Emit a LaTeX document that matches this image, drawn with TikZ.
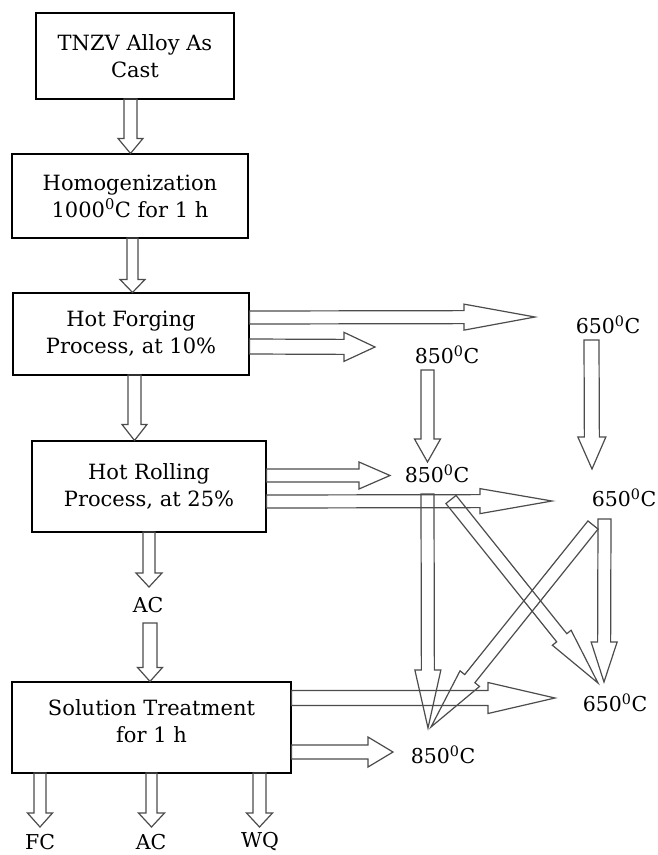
\documentclass[tikz,border=0pt]{standalone}
\usepackage{fontspec}
\setmainfont{DejaVu Serif}
\usetikzlibrary{calc}
\tikzset{
  box/.style={draw=black, line width=1.1pt, align=center, font=\fontsize{21}{27}\selectfont, inner sep=0pt},
  lbl/.style={font=\fontsize{20.5}{24}\selectfont, inner sep=0pt},
  harr/.style={draw=black!70, line width=1.2pt, line join=miter},
}
% #1 tail, #2 tip, #3 shaft half width, #4 head half width, #5 head length
\newcommand{\hollow}[5]{%
  \coordinate (hbase) at ($(#2)!#5!(#1)$);
  \draw[harr] ($(#1)!#3!90:(#2)$) -- ($(hbase)!#3!-90:(#1)$) -- ($(hbase)!#4!-90:(#1)$)
    -- (#2) -- ($(hbase)!#4!90:(#1)$) -- ($(hbase)!#3!90:(#1)$) -- ($(#1)!#3!-90:(#2)$) -- cycle;
}
\newcommand{\dg}{\textsuperscript{0}C}
\begin{document}
\begin{tikzpicture}[x=1pt, y=-1pt]
\useasboundingbox[fill=white] (0,0) rectangle (657,855);

% boxes
\node[box, minimum width=198pt, minimum height=86pt] (b1) at (135,56) {TNZV Alloy As\\Cast};
\node[box, minimum width=236pt, minimum height=84pt] (b2) at (130,196) {Homogenization\\1000\dg{} for 1 h};
\node[box, minimum width=236pt, minimum height=82pt] (b3) at (131,334) {Hot Forging\\Process, at 10\%};
\node[box, minimum width=234pt, minimum height=91pt] (b4) at (149,486.5) {Hot Rolling\\Process, at 25\%};
\node[box, minimum width=279pt, minimum height=91pt] (b5) at (151.5,727.5) {Solution Treatment\\for 1 h\\[-15pt]\mbox{}};

% labels
\node[lbl] (L650a) at (608,325) {650\dg};
\node[lbl] (L850a) at (447,355) {850\dg};
\node[lbl] (L850b) at (437,474) {850\dg};
\node[lbl] (L650b) at (624,498) {650\dg};
\node[lbl] (L650c) at (615,703) {650\dg};
\node[lbl] (L850c) at (443,755) {850\dg};
\node[lbl] (AC1) at (148,605) {AC};
\node[lbl] (FC) at (40,842) {FC};
\node[lbl] (AC2) at (151,842) {AC};
\node[lbl] (WQ) at (260,842) {WQ};

% main vertical chain
\coordinate (t1) at (130.5,99);  \coordinate (e1) at (t1 |- b2.north);
\hollow{t1}{e1}{6.5pt}{12.5pt}{15pt}
\coordinate (t2) at (132.5,238); \coordinate (e2) at (t2 |- b3.north);
\hollow{t2}{e2}{5.5pt}{12.5pt}{13pt}
\coordinate (t3) at (134.5,375); \coordinate (e3) at (t3 |- b4.north);
\hollow{t3}{e3}{6.5pt}{12.5pt}{16pt}
\coordinate (t4) at (149,532);   \coordinate (e4) at (149,587);
\hollow{t4}{e4}{6pt}{13pt}{14pt}
\coordinate (t5) at (150,623);   \coordinate (e5) at (t5 |- b5.north);
\hollow{t5}{e5}{7pt}{12.5pt}{14pt}

% bottom outputs
\coordinate (tf) at (40,773);    \coordinate (ef) at (40,827);
\hollow{tf}{ef}{6pt}{12.5pt}{14pt}
\coordinate (ta) at (151.5,773); \coordinate (ea) at (151.5,827);
\hollow{ta}{ea}{5.5pt}{13pt}{14pt}
\coordinate (tw) at (259.5,773); \coordinate (ew) at (259.5,827);
\hollow{tw}{ew}{6.5pt}{13pt}{14pt}

% hot forging outputs
\coordinate (fl) at (b3.east |- 0,317.5); \coordinate (fle) at (535,317);
\hollow{fl}{fle}{6.5pt}{13pt}{71pt}
\coordinate (fs) at (b3.east |- 0,346.5); \coordinate (fse) at (375,347);
\hollow{fs}{fse}{7.5pt}{14.5pt}{31pt}
\coordinate (d1) at (427.5,370); \coordinate (d1e) at (427.5,462);
\hollow{d1}{d1e}{6.5pt}{13pt}{23pt}
\coordinate (d2) at (591.5,340); \coordinate (d2e) at (592,469);
\hollow{d2}{d2e}{7.5pt}{14pt}{32pt}

% hot rolling outputs
\coordinate (rs) at (b4.east |- 0,475.5); \coordinate (rse) at (390,475.5);
\hollow{rs}{rse}{6.5pt}{13.5pt}{31pt}
\coordinate (rl) at (b4.east |- 0,501.5); \coordinate (rle) at (552,501);
\hollow{rl}{rle}{6.5pt}{12.5pt}{72pt}
\coordinate (v1) at (427.5,494); \coordinate (v1e) at (428,728);
\hollow{v1}{v1e}{6.5pt}{13pt}{58pt}
\coordinate (g1) at (451,499.5); \coordinate (g1e) at (598,683);
\hollow{g1}{g1e}{6.5pt}{12pt}{58pt}
\coordinate (v2) at (604.5,519); \coordinate (v2e) at (604,682);
\hollow{v2}{v2e}{6.5pt}{13pt}{40pt}
\coordinate (g2) at (593,525); \coordinate (g2e) at (431,727);
\hollow{g2}{g2e}{6.5pt}{12.5pt}{62pt}

% solution treatment outputs
\coordinate (sl) at (b5.east |- 0,698); \coordinate (sle) at (555,698);
\hollow{sl}{sle}{7.5pt}{15.5pt}{67pt}
\coordinate (ss) at (b5.east |- 0,752); \coordinate (sse) at (393,752);
\hollow{ss}{sse}{7pt}{15pt}{25pt}
\end{tikzpicture}
\end{document}
